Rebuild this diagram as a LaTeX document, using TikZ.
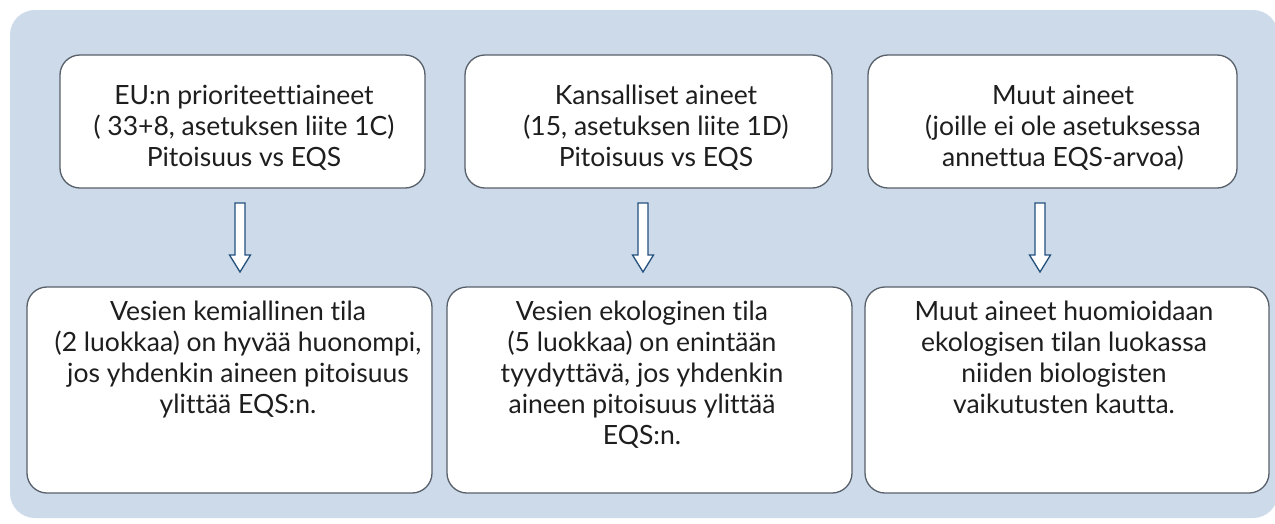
\documentclass[tikz,border=0pt]{standalone}
\usepackage{fontspec}
\setmainfont[Ligatures=NoCommon]{Lato}
\definecolor{bgblue}{RGB}{204,218,234}
\definecolor{boxline}{RGB}{88,96,106}
\definecolor{arrowline}{RGB}{35,80,125}
\definecolor{txt}{RGB}{30,30,30}
\begin{document}
\begin{tikzpicture}[x=1pt,y=-1pt,
  box/.style={draw=boxline, line width=1.3pt, fill=white, rounded corners=20pt, inner sep=0pt},
  label/.style={text=txt, font=\fontsize{26.5}{31}\selectfont, align=center, inner sep=0pt},
  hollowarrow/.style={draw=arrowline, line width=1.3pt, fill=white, line join=miter}]
\useasboundingbox (0,0) rectangle (1275,523);
\fill[bgblue, rounded corners=25pt] (10,10) rectangle (1278,518);

% top boxes
\node[box, minimum width=365pt, minimum height=133pt] (t1) at (242.5,121.5) {};
\node[box, minimum width=367pt, minimum height=133pt] (t2) at (648.5,121.5) {};
\node[box, minimum width=369pt, minimum height=133pt] (t3) at (1052.5,121.5) {};

% bottom boxes
\node[box, minimum width=405pt, minimum height=206pt] (b1) at (229.5,390) {};
\node[box, minimum width=405pt, minimum height=206pt] (b2) at (649.5,390) {};
\node[box, minimum width=404pt, minimum height=206pt] (b3) at (1067,390) {};

% top texts
\node[label, anchor=north] (t1txt) at (244,85) {EU:n prioriteettiaineet\\( 33+8, asetuksen liite 1C)\\Pitoisuus vs EQS};
\node[label, anchor=north] (t2txt) at (656,85) {Kansalliset aineet\\(15, asetuksen liite 1D)\\Pitoisuus vs EQS};
\node[label, anchor=north] (t3txt) at (1063,85) {Muut aineet\\(joille ei ole asetuksessa\\annettua EQS-arvoa)};

% bottom texts
\node[label, anchor=north] (b1txt) at (238,301) {Vesien kemiallinen tila\hspace{40pt}\\(2 luokkaa) on hyvää huonompi,\\jos yhdenkin aineen pitoisuus\\ylittää EQS:n.\hspace{12pt}};
\node[label, anchor=north] (b2txt) at (642,301) {Vesien ekologinen tila\\(5 luokkaa) on enintään\\tyydyttävä, jos yhdenkin\\aineen pitoisuus ylittää\\EQS:n.};
\node[label, anchor=north] (b3txt) at (1064,301) {Muut aineet huomioidaan\\ekologisen tilan luokassa\\niiden biologisten\\vaikutusten kautta.};

% arrows (hollow block arrows from top box row to bottom box row)
\coordinate (a1) at (240,203);
\coordinate (a2) at (643,203);
\coordinate (a3) at (1040,203);
\foreach \a in {a1,a2,a3}{
  \draw[hollowarrow] (\a) +(-5,0) -- +(-5,52) -- +(-10.5,52) -- +(0,69)
    -- +(10.5,52) -- +(5,52) -- +(5,0) -- cycle;
}
\end{tikzpicture}
\end{document}
